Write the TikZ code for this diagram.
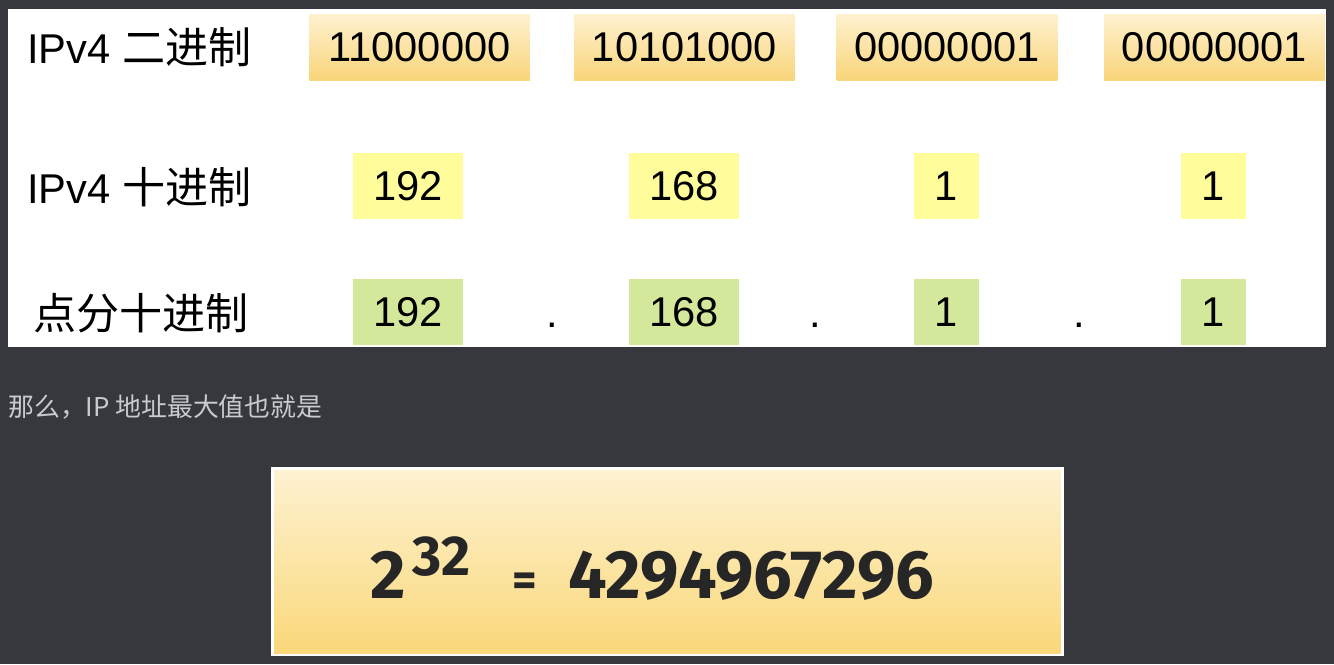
\documentclass[tikz,border=0pt]{standalone}
\usepackage{fontspec}
\setmainfont{Liberation Sans}
\newfontfamily\cjk{Noto Sans CJK SC}
\newfontfamily\roundfont{Fira Sans}
\definecolor{pagebg}{RGB}{54,56,61}
\definecolor{captiongrey}{RGB}{200,204,210}
\definecolor{bintop}{RGB}{254,241,207}
\definecolor{binbottom}{RGB}{249,213,122}
\definecolor{decyellow}{RGB}{255,253,155}
\definecolor{dotgreen}{RGB}{212,232,156}
\definecolor{powtop}{RGB}{253,242,210}
\definecolor{powbottom}{RGB}{250,216,122}
\definecolor{powink}{RGB}{38,38,38}

\tikzset{
  big/.style={font=\fontsize{23.7}{28}\selectfont},
  rowlabel/.style={big, anchor=west, inner sep=0pt},
  binbox/.style={big, minimum width=4.42cm, minimum height=1.32cm, inner sep=0pt,
    top color=bintop, bottom color=binbottom},
  decbox/.style={big, minimum width=2.2cm, minimum height=1.32cm, inner sep=0pt, fill=decyellow},
  dotbox/.style={decbox, fill=dotgreen},
  narrow/.style={minimum width=1.3cm},
  sep/.style={big, anchor=base, inner sep=0pt},
  powtext/.style={font=\roundfont\bfseries\fontsize{39}{42}\selectfont, text=powink,
    inner sep=0pt, anchor=base west},
}

\begin{document}
\begin{tikzpicture}[x=0.02cm, y=-0.02cm]
\fill[pagebg] (0,0) rectangle (1334,664);
\useasboundingbox (0,0) rectangle (1334,664);
\fill[white] (8,9) rectangle (1326,347);

% row labels
\node[rowlabel] (binlabel) at (27,47) {IPv4 {\cjk\fontsize{24.5}{28}\selectfont 二进制}};
\node[rowlabel] (declabel) at (27,187) {IPv4 {\cjk\fontsize{24.5}{28}\selectfont 十进制}};
\node[rowlabel] (dotlabel) at (33,313) {\cjk\fontsize{24.5}{28}\selectfont 点分十进制};

% binary
\node[binbox] (bina) at (419.5,47.5) {11000000};
\node[binbox] (binb) at (684.5,47.5) {10101000};
\node[binbox] (binc) at (947,47.5) {00000001};
\node[binbox] (bind) at (1214.5,47.5) {00000001};

% decimal
\node[decbox] (deca) at (408,186) {192};
\node[decbox] (decb) at (684,186) {168};
\node[decbox, narrow] (decc) at (946.5,186) {1};
\node[decbox, narrow] (decd) at (1213.5,186) {1};

% dotted decimal
\node[dotbox] (dota) at (408,312) {192};
\node[dotbox] (dotb) at (684,312) {168};
\node[dotbox, narrow] (dotc) at (946.5,312) {1};
\node[dotbox, narrow] (dotd) at (1213.5,312) {1};
\node[sep] (sepa) at (552,327.5) {.};
\node[sep] (sepb) at (815,327.5) {.};
\node[sep] (sepc) at (1079,327.5) {.};

% caption
\node[anchor=west, inner sep=0pt, text=captiongrey, font=\cjk\fontsize{14.7}{17}\selectfont]
  (caption) at (8,407) {那么，IP 地址最大值也就是};

% 2^32
\node[draw=white, line width=0.06cm, minimum width=15.82cm, minimum height=3.74cm,
  top color=powtop, bottom color=powbottom] (powbox) at (667.5,561.5) {};
\node[powtext] (base) at (370,598) {2};
\node[powtext, font=\roundfont\bfseries\fontsize{32}{35}\selectfont] (expo) at (412,575) {32};
\node[powtext, anchor=base, font=\roundfont\bfseries\fontsize{27}{30}\selectfont] (eq) at (524.5,596) {=};
\node[powtext] (value) at (568,598) {4294967296};
\end{tikzpicture}
\end{document}
